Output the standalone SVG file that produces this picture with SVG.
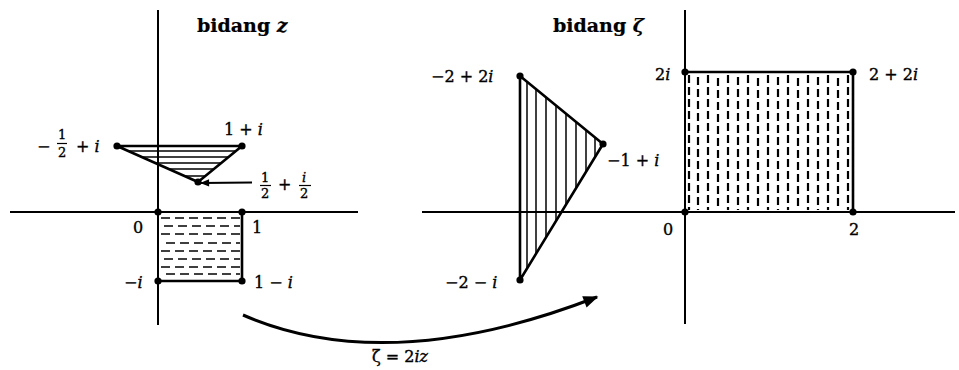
<svg xmlns="http://www.w3.org/2000/svg" width="959" height="370" viewBox="0 0 959 370">
<style>
.ax{stroke:#000;stroke-width:2;fill:none}
.sh{stroke:#000;stroke-width:2.6;fill:none;stroke-linejoin:round}
.ht{stroke:#000;stroke-width:1.5;fill:none}
.hd{stroke:#000;stroke-width:1.7;fill:none;stroke-dasharray:9 5}
.vd{stroke:#000;stroke-width:2.2;fill:none;stroke-dasharray:8 4}
.dot{fill:#000}
text{font-family:"DejaVu Serif","Liberation Serif",serif;font-size:16px;fill:#000;stroke:#000;stroke-width:0.35}
.t{font-weight:bold;font-size:19px;stroke-width:0.2}
.it{font-style:italic}
.sm{font-size:13px}
</style>
<defs>
<marker id="ah" viewBox="0 0 10 10" refX="9" refY="5" markerWidth="12" markerHeight="9" orient="auto" markerUnits="userSpaceOnUse">
<path d="M0,1 L10,5 L0,9 Z" fill="#000"/>
</marker>
<marker id="ah2" viewBox="0 0 10 10" refX="9" refY="5" markerWidth="6" markerHeight="5" orient="auto">
<path d="M0,1 L10,5 L0,9 Z" fill="#000"/>
</marker>
</defs>

<g id="axes">
<line class="ax" x1="10" y1="212" x2="358" y2="212"/>
<line class="ax" x1="158" y1="10" x2="158" y2="325"/>
<line class="ax" x1="422" y1="212" x2="955" y2="212"/>
<line class="ax" x1="685" y1="10" x2="685" y2="324"/>
</g>

<g id="titles">
<text class="t" x="197" y="32">bidang <tspan class="it">z</tspan></text>
<text class="t" x="553" y="32">bidang <tspan class="it">ζ</tspan></text>
</g>

<g id="z-triangle">
<g class="ht">
<line x1="128" y1="151" x2="236" y2="151"/>
<line x1="142" y1="157" x2="229" y2="157"/>
<line x1="155" y1="163" x2="221" y2="163"/>
<line x1="169" y1="169" x2="214" y2="169"/>
<line x1="184" y1="176" x2="205" y2="176"/>
</g>
<polygon class="sh" points="117,146 242,146 198,182"/>
<circle class="dot" cx="117" cy="146" r="3.6"/>
<circle class="dot" cx="242" cy="146" r="3.6"/>
<circle class="dot" cx="198" cy="182" r="3.6"/>
<text x="224" y="135">1 + <tspan class="it">i</tspan></text>
<text x="37" y="152">−</text>
<text class="sm" x="58" y="139">1</text>
<line x1="57" y1="143.5" x2="67" y2="143.5" stroke="#000" stroke-width="1.2"/>
<text class="sm" x="58" y="157">2</text>
<text x="76" y="152">+ <tspan class="it">i</tspan></text>
<text class="sm" x="261" y="182">1</text>
<line x1="260" y1="185.5" x2="271" y2="185.5" stroke="#000" stroke-width="1.2"/>
<text class="sm" x="261" y="198">2</text>
<text x="278" y="190">+</text>
<text class="sm it" x="302" y="182">i</text>
<line x1="299" y1="185.5" x2="311" y2="185.5" stroke="#000" stroke-width="1.2"/>
<text class="sm" x="300" y="198">2</text>
</g>

<g id="z-square">
<g class="hd">
<line x1="161" y1="218" x2="240" y2="218"/>
<line x1="164" y1="226" x2="240" y2="226"/>
<line x1="161" y1="234" x2="240" y2="234"/>
<line x1="166" y1="243" x2="240" y2="243"/>
<line x1="161" y1="251" x2="240" y2="251"/>
<line x1="164" y1="259" x2="240" y2="259"/>
<line x1="161" y1="267" x2="240" y2="267"/>
<line x1="166" y1="274" x2="240" y2="274"/>
</g>
<polyline class="sh" points="242,212 242,281 158,281"/>
<circle class="dot" cx="158" cy="212" r="3.6"/>
<circle class="dot" cx="242" cy="212" r="3.6"/>
<circle class="dot" cx="158" cy="281" r="3.6"/>
<circle class="dot" cx="242" cy="281" r="3.6"/>
<text x="133" y="233">0</text>
<text x="252" y="233">1</text>
<text x="124" y="288">−<tspan class="it">i</tspan></text>
<text x="254" y="288">1 − <tspan class="it">i</tspan></text>
</g>

<g id="zeta-triangle">
<g class="ht">
<line x1="527" y1="82" x2="527" y2="268"/>
<line x1="536" y1="89" x2="536" y2="254"/>
<line x1="546" y1="97" x2="546" y2="237"/>
<line x1="556" y1="106" x2="556" y2="221"/>
<line x1="566" y1="114" x2="566" y2="205"/>
<line x1="576" y1="122" x2="576" y2="188"/>
<line x1="586" y1="130" x2="586" y2="172"/>
<line x1="595" y1="137" x2="595" y2="157"/>
</g>
<polygon class="sh" points="520,76 603,144 520,280"/>
<circle class="dot" cx="520" cy="76" r="3.6"/>
<circle class="dot" cx="603" cy="144" r="3.6"/>
<circle class="dot" cx="520" cy="280" r="3.6"/>
<text x="431" y="82">−2 + 2<tspan class="it">i</tspan></text>
<text x="607" y="166">−1 + <tspan class="it">i</tspan></text>
<text x="445" y="288">−2 − <tspan class="it">i</tspan></text>
</g>

<g id="zeta-square">
<g class="vd">
<line x1="689" y1="75" x2="689" y2="210"/>
<line x1="698" y1="77" x2="698" y2="210"/>
<line x1="708" y1="75" x2="708" y2="210"/>
<line x1="718" y1="78" x2="718" y2="210"/>
<line x1="728" y1="75" x2="728" y2="210"/>
<line x1="738" y1="77" x2="738" y2="210"/>
<line x1="748" y1="75" x2="748" y2="210"/>
<line x1="758" y1="78" x2="758" y2="210"/>
<line x1="768" y1="75" x2="768" y2="210"/>
<line x1="778" y1="77" x2="778" y2="210"/>
<line x1="788" y1="75" x2="788" y2="210"/>
<line x1="798" y1="78" x2="798" y2="210"/>
<line x1="808" y1="75" x2="808" y2="210"/>
<line x1="818" y1="77" x2="818" y2="210"/>
<line x1="828" y1="75" x2="828" y2="210"/>
<line x1="838" y1="78" x2="838" y2="210"/>
<line x1="848" y1="75" x2="848" y2="210"/>
</g>
<polyline class="sh" points="685,72 853,72 853,212"/>
<circle class="dot" cx="685" cy="72" r="3.6"/>
<circle class="dot" cx="853" cy="72" r="3.6"/>
<circle class="dot" cx="685" cy="212" r="3.6"/>
<circle class="dot" cx="853" cy="212" r="3.6"/>
<text x="655" y="80">2<tspan class="it">i</tspan></text>
<text x="869" y="80">2 + 2<tspan class="it">i</tspan></text>
<text x="663" y="235">0</text>
<text x="849" y="235">2</text>
</g>

<g id="connectors">
<line x1="252" y1="182.5" x2="201" y2="183" stroke="#000" stroke-width="1.8" marker-end="url(#ah)"/>
<path d="M243,315 Q388,378 597,297" stroke="#000" stroke-width="3" fill="none" marker-end="url(#ah2)"/>
<text x="372" y="362">ζ = 2<tspan class="it">iz</tspan></text>
</g>
</svg>
